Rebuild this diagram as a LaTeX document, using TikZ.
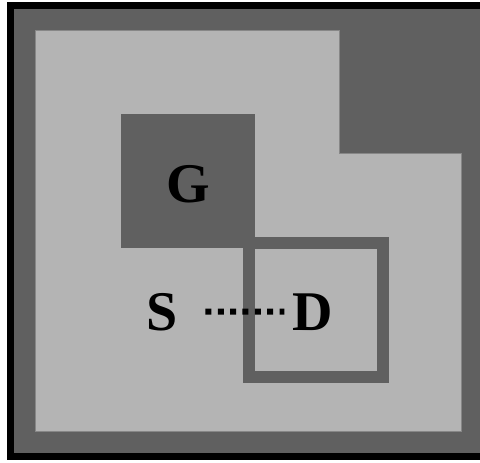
\documentclass[tikz,border=0pt]{standalone}
\usepackage{fontspec}
\setmainfont{Liberation Serif}
\definecolor{darkfill}{RGB}{96,96,96}
\definecolor{lightfill}{RGB}{180,180,180}
\definecolor{edgegray}{RGB}{135,135,135}
\tikzset{
letter/.style={anchor=base, inner sep=0pt, font=\fontsize{28}{28}\selectfont\bfseries},
region/.style={fill=lightfill, draw=edgegray, line width=0.4pt},
gate/.style={fill=darkfill},
drain/.style={draw=darkfill, line width=6pt},
sdline/.style={line width=3pt, dash pattern=on 3pt off 3.17pt, shorten <=13.5pt, shorten >=4pt}
}

\begin{document}
\begin{tikzpicture}[x=0.5pt, y=-0.5pt]
	\useasboundingbox (0,0) rectangle (480,462);
	\clip (0,0) rectangle (480,462);
	\fill[white] (0,0) rectangle (480,462);
	\draw[line width=3.5pt, fill=darkfill] (10.5,5.5) rectangle (500,456);
	\draw[region] (35,30) -- (339,30) -- (339,153) -- (461,153) -- (461,431) -- (35,431) -- cycle;
	\fill[gate] (121,114) rectangle (255,248);
	\draw[drain] (249,243) rectangle (383,377);
	\node[letter] (G) at (188,202) {G};
	\node[letter] (S) at (162.5,330) {S};
	\node[letter] (D) at (313,330) {D};
	\draw[sdline] (S.east) -- (D.west);
\end{tikzpicture}
\end{document}
